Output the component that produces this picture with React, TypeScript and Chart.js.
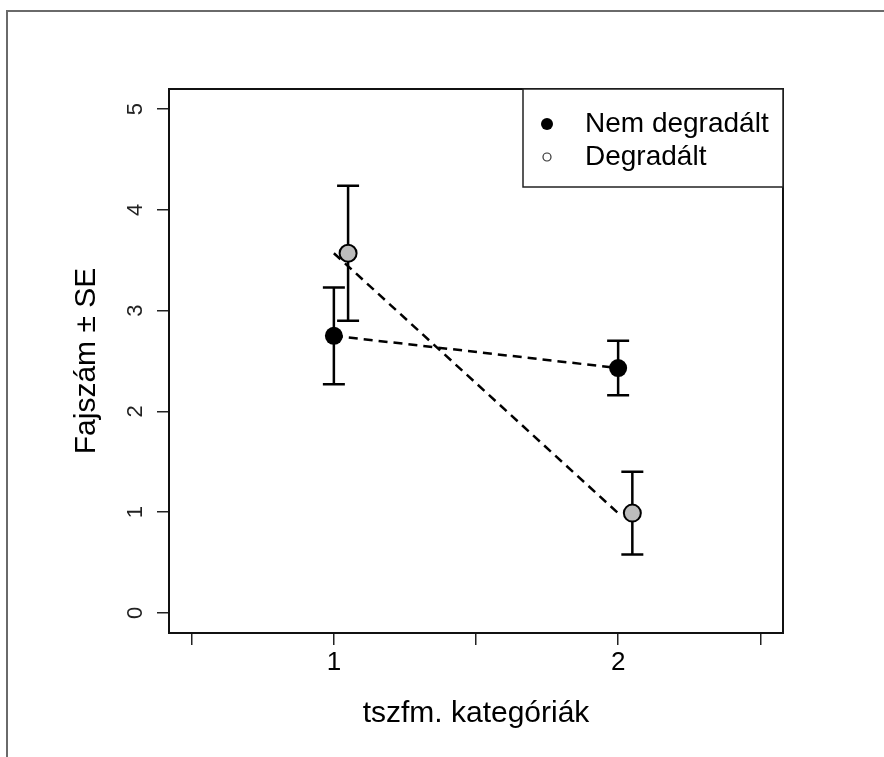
import React, { useEffect, useRef } from 'react';
import { Chart, registerables } from 'chart.js';

Chart.register(...registerables);

// ---- data ----
const categories = [1, 2];
const seriesLabels = ['Nem degradált', 'Degradált'];
const nemMeans = [2.75, 2.43];
const nemSE = [0.48, 0.27];
const degMeans = [3.57, 0.99];
const degSE = [0.67, 0.41];
const degOffset = 0.05; // Degradált points are plotted slightly to the right
const xTicks = [0.5, 1, 1.5, 2, 2.5];
const xTickLabels = ['', '1', '', '2', ''];
const yTicks = [0, 1, 2, 3, 4, 5];
const yTickLabels = ['0', '1', '2', '3', '4', '5'];
const xTitle = 'tszfm. kategóriák';
const yTitle = 'Fajszám ± SE';
const xLim = [0.5, 2.5];
const yLim = [0, 5];

const FONT = '"Liberation Sans", Arial, Helvetica, sans-serif';

const ext = (lim: number[]) => {
  const d = (lim[1] - lim[0]) * 0.04;
  return [lim[0] - d, lim[1] + d];
};

const framePlugin = {
  id: 'frame',
  beforeDraw(chart: any) {
    const ctx = chart.ctx;
    ctx.save();
    ctx.fillStyle = '#fff';
    ctx.fillRect(0, 0, chart.width, chart.height);
    ctx.strokeStyle = '#6a6a6a';
    ctx.lineWidth = 2;
    ctx.beginPath();
    ctx.moveTo(7, chart.height);
    ctx.lineTo(7, 11);
    ctx.lineTo(chart.width, 11);
    ctx.stroke();
    ctx.restore();
  },
};

const errorBarPlugin = {
  id: 'errorBars',
  beforeDatasetsDraw(chart: any) {
    const { ctx, scales } = chart;
    const xs = scales.x;
    const ys = scales.y;
    const draw = (x: number, lo: number, hi: number) => {
      const px = xs.getPixelForValue(x);
      const pLo = ys.getPixelForValue(lo);
      const pHi = ys.getPixelForValue(hi);
      const cap = 11;
      ctx.beginPath();
      ctx.moveTo(px, pLo);
      ctx.lineTo(px, pHi);
      ctx.moveTo(px - cap, pLo);
      ctx.lineTo(px + cap, pLo);
      ctx.moveTo(px - cap, pHi);
      ctx.lineTo(px + cap, pHi);
      ctx.stroke();
    };
    ctx.save();
    ctx.strokeStyle = '#000';
    ctx.lineWidth = 2.5;
    ctx.setLineDash([]);
    categories.forEach((c, i) => {
      draw(c, nemMeans[i] - nemSE[i], nemMeans[i] + nemSE[i]);
      draw(c + degOffset, degMeans[i] - degSE[i], degMeans[i] + degSE[i]);
    });
    ctx.restore();
  },
  afterDatasetsDraw(chart: any) {
    const { ctx, chartArea } = chart;
    ctx.save();
    ctx.strokeStyle = '#111';
    ctx.lineWidth = 2;
    ctx.strokeRect(chartArea.left, chartArea.top, chartArea.right - chartArea.left, chartArea.bottom - chartArea.top);
    ctx.restore();
  },
};

const legendPlugin = {
  id: 'boxLegend',
  afterDraw(chart: any) {
    const { ctx, chartArea } = chart;
    const w = 260;
    const h = 98;
    const left = chartArea.right - w;
    const top = chartArea.top;
    ctx.save();
    ctx.fillStyle = '#fff';
    ctx.fillRect(left, top, w, h);
    ctx.strokeStyle = '#222';
    ctx.lineWidth = 1.5;
    ctx.strokeRect(left, top, w, h);
    const rows = [top + 35, top + 68];
    // symbol 1: filled dot
    ctx.fillStyle = '#000';
    ctx.beginPath();
    ctx.arc(left + 24, rows[0], 6, 0, Math.PI * 2);
    ctx.fill();
    // symbol 2: open small circle
    ctx.strokeStyle = '#333';
    ctx.lineWidth = 1.2;
    ctx.beginPath();
    ctx.arc(left + 24, rows[1], 4, 0, Math.PI * 2);
    ctx.stroke();
    ctx.fillStyle = '#000';
    ctx.font = `28px ${FONT}`;
    ctx.textAlign = 'left';
    ctx.textBaseline = 'middle';
    seriesLabels.forEach((lab, i) => ctx.fillText(lab, left + 62, rows[i]));
    ctx.restore();
  },
};

export default function App() {
  const ref = useRef<HTMLCanvasElement | null>(null);

  useEffect(() => {
    if (!ref.current) return;
    const xr = ext(xLim);
    const yr = ext(yLim);
    const dash = [9, 6];
    const chart = new Chart(ref.current, {
      type: 'scatter',
      data: {
        datasets: [
          {
            type: 'line',
            label: seriesLabels[0],
            data: categories.map((c, i) => ({ x: c, y: nemMeans[i] })),
            borderColor: '#000',
            borderWidth: 2.5,
            borderDash: dash,
            pointRadius: 9,
            pointBackgroundColor: '#000',
            pointBorderColor: '#000',
            pointBorderWidth: 0,
            fill: false,
            tension: 0,
            order: 0,
          } as any,
          {
            type: 'scatter',
            label: seriesLabels[1],
            data: categories.map((c, i) => ({ x: c + degOffset, y: degMeans[i] })),
            pointRadius: 8.5,
            pointBackgroundColor: '#bcbcbc',
            pointBorderColor: '#000',
            pointBorderWidth: 2,
            showLine: false,
            order: 0,
          } as any,
          {
            type: 'line',
            label: seriesLabels[1] + ' (line)',
            data: categories.map((c, i) => ({ x: c, y: degMeans[i] })),
            borderColor: '#000',
            borderWidth: 2.5,
            borderDash: dash,
            pointRadius: 0,
            fill: false,
            tension: 0,
            order: 1,
          } as any,
        ],
      },
      options: {
        responsive: false,
        maintainAspectRatio: false,
        animation: false,
        layout: { padding: { top: 89, right: 101, left: 0, bottom: 0 } },
        plugins: {
          legend: { display: false },
          tooltip: { enabled: false },
        },
        scales: {
          x: {
            type: 'linear',
            min: xr[0],
            max: xr[1],
            afterBuildTicks: (s: any) => {
              s.ticks = xTicks.map((v) => ({ value: v }));
            },
            afterFit: (s: any) => {
              s.height = 124;
            },
            ticks: {
              autoSkip: false,
              maxRotation: 0,
              minRotation: 0,
              padding: 2,
              color: '#000',
              font: { family: FONT, size: 26 },
              callback: (_v: any, i: number) => xTickLabels[i],
            },
            grid: { drawOnChartArea: false, drawTicks: true, tickLength: 12, color: '#222', lineWidth: 1.5 },
            border: { display: false },
            title: {
              display: true,
              text: xTitle,
              color: '#000',
              font: { family: FONT, size: 30 },
              padding: { top: 0, bottom: 25 },
            },
          },
          y: {
            type: 'linear',
            min: yr[0],
            max: yr[1],
            afterBuildTicks: (s: any) => {
              s.ticks = yTicks.map((v) => ({ value: v }));
            },
            afterFit: (s: any) => {
              s.width = 169;
            },
            ticks: {
              autoSkip: false,
              minRotation: 90,
              maxRotation: 90,
              crossAlign: 'center',
              padding: 15,
              color: '#222',
              font: { family: FONT, size: 22 },
              callback: (_v: any, i: number) => yTickLabels[i],
            },
            grid: { drawOnChartArea: false, drawTicks: true, tickLength: 12, color: '#222', lineWidth: 1.5 },
            border: { display: false },
            title: {
              display: true,
              text: yTitle,
              color: '#000',
              font: { family: FONT, size: 30 },
              padding: { top: 69, bottom: 0 },
            },
          },
        },
      } as any,
      plugins: [framePlugin, errorBarPlugin, legendPlugin],
    });
    return () => chart.destroy();
  }, []);

  return (
    <div style={{ position: 'absolute', left: 0, top: 0, width: 884, height: 757, background: '#fff' }}>
      <canvas ref={ref} width={884} height={757} style={{ display: 'block', width: 884, height: 757 }} />
    </div>
  );
}
